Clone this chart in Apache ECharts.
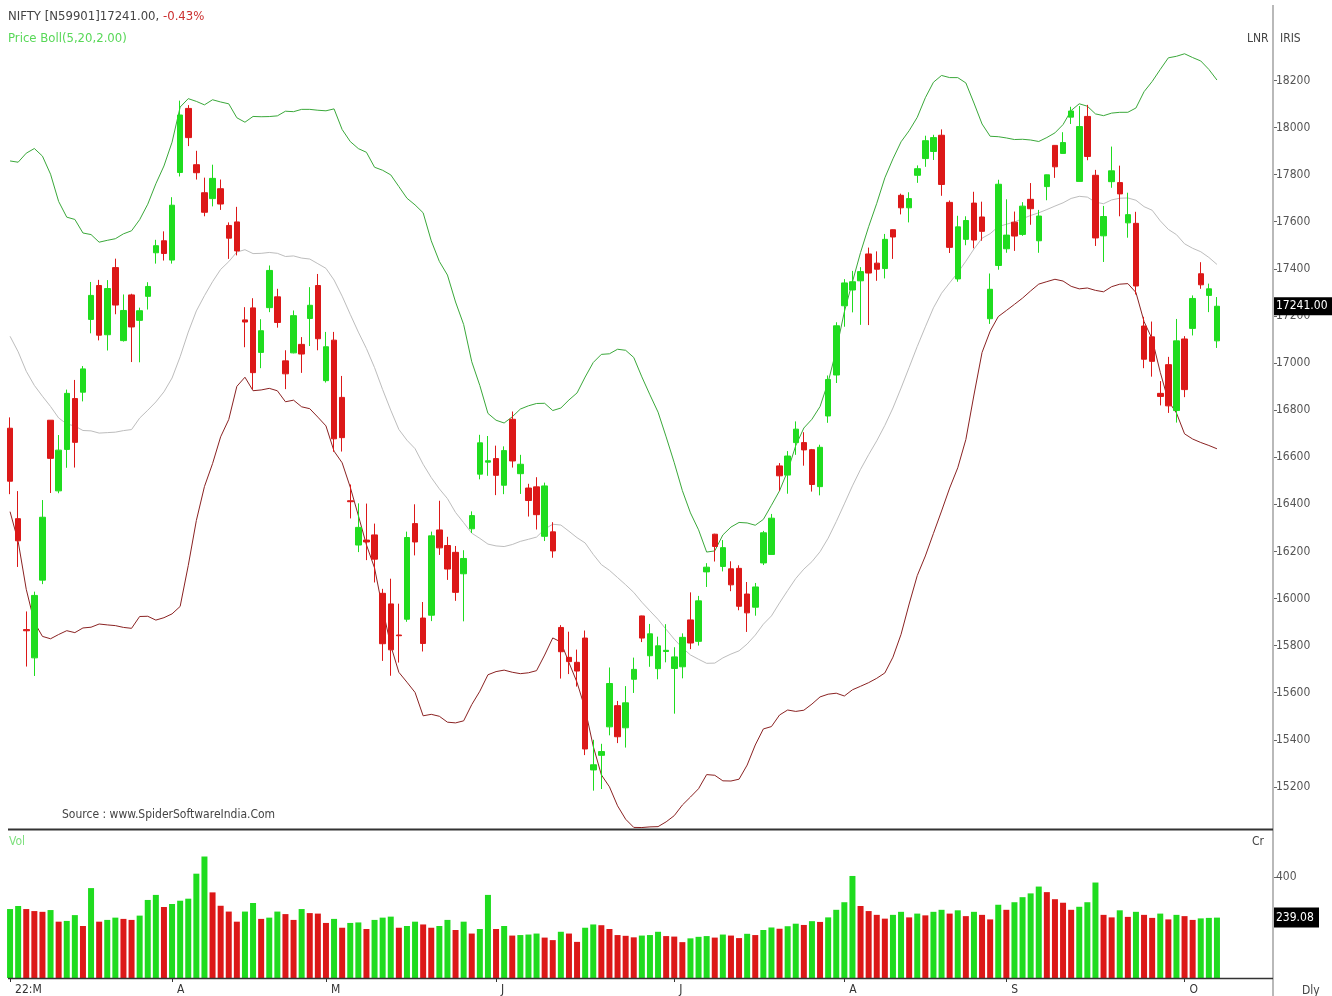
<!DOCTYPE html>
<html>
<head>
<meta charset="utf-8">
<title>NIFTY Bollinger</title>
<script src="https://cdn.jsdelivr.net/npm/echarts@6/dist/echarts.min.js"></script>
<style>
  html, body { margin: 0; padding: 0; background: #fff; }
  #chart { width: 1332px; height: 996px; }
</style>
</head>
<body>
<div id="chart"></div>
<script>
// trading days per month (2022)
const marDays = [3,4,7,8,9,10,11,14,15,16,17,21,22,23,24,25,28,29,30,31];
const aprDays = [1,4,5,6,7,8,11,12,13,18,19,20,21,22,25,26,27,28,29];
const mayDays = [2,4,5,6,9,10,11,12,13,16,17,18,19,20,23,24,25,26,27,30,31];
const junDays = [1,2,3,6,7,8,9,10,13,14,15,16,17,20,21,22,23,24,27,28,29,30];
const julDays = [1,4,5,6,7,8,11,12,13,14,15,18,19,20,21,22,25,26,27,28,29];
const augDays = [1,2,3,4,5,8,10,11,12,16,17,18,19,22,23,24,25,26,29,30];
const sepDays = [1,2,5,6,7,8,9,12,13,14,15,16,19,20,21,22,23,26,27,28,29,30];
const octDays = [3,4,6,7,10];

// month labels on the time axis
const monthStarts = [0, 20, 39, 60, 82, 103, 123, 145];
const monthNames = ['22:M', 'A', 'M', 'J', 'J', 'A', 'S', 'O'];

// price and volume tick labels
const priceTicks = [15200,15400,15600,15800,16000,16200,16400,16600,16800,17000,17200,17400,17600,17800,18000,18200];
const volTicks = [400];

// closes before the first visible day (needed for the 20 day band)
const warmupClose = [17560, 17516, 17214, 17267, 17464, 17606, 17375, 16843, 17352, 17322,
  17305, 17276, 17207, 17092, 17063, 16248, 16658, 16794, 16606];

const open = [
  16723,16339,15868,15748,16078,16757,16457,16633,16849,16876,17185,17329,17120,17405,17095,17289,17181,17283,17468,17519,
  17437,17809,18081,17842,17723,17698,17740,17584,17599,17183,17234,17045,17235,17281,17009,17043,17079,17189,17329,
  16925,17097,16854,16415,16227,16248,16270,16022,15977,15845,15912,16318,15917,15929,16291,16225,16196,16105,16296,16528,16579,
  16594,16481,16761,16530,16469,16474,16264,16283,15877,15750,15729,15832,15272,15334,15455,15545,15451,15657,15926,15757,15702,15775,
  15703,15710,15909,15818,16113,16273,16136,16126,16128,16019,15963,16151,16187,16563,16524,16662,16662,16632,16475,16775,16949,
  17243,17310,17349,17463,17424,17401,17566,17712,17659,17797,17868,17898,17967,17682,17357,17525,17679,17620,17188,17414,
  17485,17598,17546,17695,17519,17749,17924,17890,18044,17771,18047,17797,17540,17770,17766,17595,17593,17157,17111,16871,16993,16798,
  17102,17147,17379,17287,17094
];
const high = [
  16769,16456,15945,16029,16418,16757,16694,16887,16928,16987,17344,17353,17352,17443,17291,17294,17235,17343,17523,17559,
  17704,18114,18095,17901,17787,17842,17779,17597,17663,17237,17275,17186,17414,17315,17054,17223,17110,17322,17378,
  17132,17132,16945,16484,16404,16403,16318,16041,16084,15978,16284,16400,15985,16284,16415,16262,16223,16205,16370,16695,16690,
  16649,16646,16794,16610,16487,16515,16492,16324,15887,15859,15783,15864,15400,15383,15707,15565,15628,15749,15927,15892,15838,15891,
  15793,15852,16026,16011,16150,16275,16248,16158,16141,16070,16066,16287,16359,16575,16626,16752,16706,16635,16653,16947,17173,
  17356,17391,17407,17490,17474,17548,17567,17719,17725,17839,17965,17969,17992,17690,17625,17623,17727,17685,17380,17778,
  17695,17643,17683,17764,17650,17792,17925,17980,18088,18091,18096,17820,17667,17919,17838,17723,17642,17196,17176,16923,17026,17187,
  17114,17287,17428,17337,17280
];
const low = [
  16443,16134,15711,15671,16061,16448,16447,16555,16556,16837,17126,17096,17053,17207,17091,17004,17003,17227,17422,17435,
  17422,17792,17921,17779,17623,17665,17650,17442,17457,17067,16888,16978,17216,17150,16889,17041,16958,17072,17054,
  16917,16623,16624,16340,16197,16163,16068,15735,15672,15728,15901,16183,15775,15904,16185,16079,15990,15903,16278,16506,16521,
  16439,16443,16556,16444,16348,16293,16244,16173,15660,15679,15626,15335,15184,15191,15419,15386,15367,15599,15815,15710,15657,15729,
  15511,15661,15785,15800,16049,16157,16115,16031,15950,15858,15927,16142,16187,16457,16445,16610,16564,16454,16438,16746,16915,
  17154,17215,17162,17161,17349,17359,17442,17631,17597,17765,17833,17862,17710,17467,17345,17500,17487,17519,17166,17396,
  17468,17476,17540,17587,17468,17691,17786,17889,18015,17771,17861,17497,17429,17744,17623,17532,17291,16978,16942,16820,16788,16747,
  16855,17117,17315,17216,17064
];
const close = [
  16498,16245,15863,16013,16345,16595,16630,16871,16663,16975,17287,17118,17316,17246,17223,17153,17222,17325,17498,17465,
  17670,18053,17957,17808,17640,17784,17675,17530,17476,17174,16959,17137,17393,17172,16954,17201,17038,17245,17103,
  17069,16678,16683,16411,16302,16240,16167,15808,15782,15842,16259,16240,15809,16266,16215,16125,16026,16170,16352,16661,16585,
  16523,16628,16584,16570,16416,16356,16478,16202,15774,15732,15692,15361,15294,15350,15639,15413,15557,15699,15832,15850,15799,15780,
  15752,15835,15811,15990,16133,16221,16216,16058,15967,15939,16049,16279,16341,16521,16605,16719,16631,16484,16642,16930,17158,
  17340,17345,17388,17382,17398,17525,17535,17659,17698,17825,17944,17957,17758,17491,17578,17605,17522,17559,17313,17759,
  17543,17539,17666,17655,17624,17799,17833,17936,18070,18004,17877,17531,17622,17816,17718,17630,17327,17016,17007,16858,16818,17094,
  16887,17274,17332,17315,17241
];

// volume in crore
const volume = [
  273,285,273,265,262,269,223,226,249,206,356,223,230,239,234,230,247,309,329,281,
  293,306,314,413,481,339,286,263,223,263,297,234,239,263,253,230,273,257,255,218,
  234,199,218,220,194,230,239,243,199,206,223,212,199,206,230,190,223,176,194,329,
  194,206,168,170,172,176,160,150,183,176,143,199,212,209,194,170,167,161,168,170,
  183,166,164,142,157,163,166,160,172,168,158,175,170,190,200,195,205,215,210,225,
  222,240,270,300,404,285,265,250,235,250,262,240,255,248,262,270,255,268,245,262,
  250,232,290,270,300,320,335,362,340,312,298,270,282,300,378,250,240,268,242,262,
  250,238,255,232,250,245,230,236,238,239.08
];

const GREEN = '#1fdc1f';
const RED = '#dc1818';
const FONT = '"DejaVu Sans Condensed", "Liberation Sans", sans-serif';

const dates = [];
[['03', marDays], ['04', aprDays], ['05', mayDays], ['06', junDays],
 ['07', julDays], ['08', augDays], ['09', sepDays], ['10', octDays]].forEach(function (m) {
  m[1].forEach(function (d) {
    dates.push('2022-' + m[0] + '-' + (d < 10 ? '0' + d : d));
  });
});

const candles = [];
for (let i = 0; i < close.length; i++) {
  candles.push([open[i], close[i], low[i], high[i]]);
}

// Bollinger bands, 20 periods, 2 std devs
const allClose = warmupClose.concat(close);
const bandUp = [], bandMid = [], bandLow = [];
for (let i = 0; i < close.length; i++) {
  const win = allClose.slice(i, i + 20);
  const m = win.reduce((a, b) => a + b, 0) / 20;
  const sd = Math.sqrt(win.reduce((a, b) => a + (b - m) * (b - m), 0) / 20);
  bandMid.push(+m.toFixed(2));
  bandUp.push(+(m + 2 * sd).toFixed(2));
  bandLow.push(+(m - 2 * sd).toFixed(2));
}

// volume bars are green when volume rises over the previous day
const volData = volume.map(function (v, i) {
  const up = i === 0 || v >= volume[i - 1];
  return { value: v, itemStyle: { color: up ? GREEN : RED } };
});

const lastClose = close[close.length - 1];
const lastVol = volume[volume.length - 1];

let myChart = echarts.init(document.getElementById('chart'));

myChart.setOption({
  animation: false,
  backgroundColor: '#fff',
  textStyle: { fontFamily: FONT },
  title: [
    {
      left: 8, top: 10, padding: 0,
      text: '{a|NIFTY [N59901]17241.00, }{b|-0.43%}',
      textStyle: {
        fontWeight: 'normal',
        rich: {
          a: { color: '#444', fontSize: 13, fontWeight: 'normal', fontFamily: FONT },
          b: { color: '#cc3030', fontSize: 13, fontWeight: 'normal', fontFamily: FONT }
        }
      }
    },
    {
      left: 8, top: 32, padding: 0,
      text: 'Price Boll(5,20,2.00)',
      textStyle: { color: '#58d858', fontSize: 13, fontWeight: 'normal', fontFamily: FONT }
    }
  ],
  grid: [
    { left: 6, width: 1215, top: 38, height: 796 },
    { left: 6, width: 1215, top: 831, height: 147 }
  ],
  xAxis: [
    {
      type: 'category', gridIndex: 0, data: dates,
      axisLine: { show: false }, axisTick: { show: false },
      axisLabel: { show: false }, splitLine: { show: false }
    },
    {
      type: 'category', gridIndex: 1, data: dates,
      axisLine: { show: false },
      axisTick: {
        show: true, length: 4, alignWithLabel: true,
        interval: function (i) { return monthStarts.indexOf(i) >= 0; },
        lineStyle: { color: '#333' }
      },
      axisLabel: {
        interval: function (i) { return monthStarts.indexOf(i) >= 0; },
        formatter: function (v, i) {
          const k = monthStarts.indexOf(i);
          return k >= 0 ? monthNames[k] : '';
        },
        align: 'left', padding: [0, 0, 0, 5], margin: 6,
        color: '#333', fontSize: 12, fontFamily: FONT
      },
      splitLine: { show: false }
    }
  ],
  yAxis: [
    {
      type: 'value', gridIndex: 0, position: 'right', offset: 52,
      min: 15000, max: 18380, interval: 200,
      axisLine: { show: false },
      axisTick: { show: true, length: 4, customValues: priceTicks, lineStyle: { color: '#666' } },
      axisLabel: {
        customValues: priceTicks, color: '#555', fontSize: 12, margin: 3, fontFamily: FONT,
        formatter: function (v) { return String(v); }
      },
      splitLine: { show: false }
    },
    {
      type: 'value', gridIndex: 1, position: 'right', offset: 52,
      min: 0, max: 582, interval: 400,
      axisLine: { show: false },
      axisTick: { show: true, length: 4, customValues: volTicks, lineStyle: { color: '#666' } },
      axisLabel: {
        customValues: volTicks, color: '#555', fontSize: 12, margin: 3, fontFamily: FONT,
        formatter: function (v) { return String(v); }
      },
      splitLine: { show: false }
    }
  ],
  series: [
    {
      name: 'Upper', type: 'line', data: bandUp, xAxisIndex: 0, yAxisIndex: 0,
      symbol: 'none', z: 1, lineStyle: { color: '#3aa83a', width: 1 }
    },
    {
      name: 'Mid', type: 'line', data: bandMid, xAxisIndex: 0, yAxisIndex: 0,
      symbol: 'none', z: 1, lineStyle: { color: '#bdbdbd', width: 1 }
    },
    {
      name: 'Lower', type: 'line', data: bandLow, xAxisIndex: 0, yAxisIndex: 0,
      symbol: 'none', z: 1, lineStyle: { color: '#8a2222', width: 1 }
    },
    {
      name: 'NIFTY', type: 'candlestick', data: candles, xAxisIndex: 0, yAxisIndex: 0,
      barWidth: 6, z: 3,
      itemStyle: {
        color: GREEN, color0: RED,
        borderColor: GREEN, borderColor0: RED,
        borderColorDoji: '#555', borderWidth: 1
      }
    },
    {
      name: 'Vol', type: 'bar', data: volData, xAxisIndex: 1, yAxisIndex: 1,
      barWidth: 6
    }
  ]
});

// value tags on the right axis
const py = myChart.convertToPixel({ yAxisIndex: 0 }, lastClose);
const vy = myChart.convertToPixel({ yAxisIndex: 1 }, lastVol);

myChart.setOption({
  graphic: [
    { type: 'line', shape: { x1: 1273, y1: 5, x2: 1273, y2: 996 }, style: { stroke: '#b9b9b9', lineWidth: 2 }, z: 10 },
    { type: 'line', shape: { x1: 8, y1: 829.5, x2: 1273, y2: 829.5 }, style: { stroke: '#333', lineWidth: 2 }, z: 10 },
    { type: 'line', shape: { x1: 8, y1: 978.5, x2: 1273, y2: 978.5 }, style: { stroke: '#333', lineWidth: 1.5 }, z: 10 },
    { type: 'text', left: 62, top: 809, style: { text: 'Source : www.SpiderSoftwareIndia.Com', fill: '#444', font: '12px ' + FONT } },
    { type: 'text', left: 9, top: 836, style: { text: 'Vol', fill: '#7ee07e', font: '12px ' + FONT } },
    { type: 'text', left: 1252, top: 836, style: { text: 'Cr', fill: '#444', font: '12px ' + FONT } },
    { type: 'text', left: 1247, top: 33, style: { text: 'LNR', fill: '#444', font: '12px ' + FONT } },
    { type: 'text', left: 1280, top: 33, style: { text: 'IRIS', fill: '#444', font: '12px ' + FONT } },
    { type: 'text', left: 1302, top: 985, style: { text: 'Dly', fill: '#444', font: '12px ' + FONT } },
    { type: 'rect', shape: { x: 1274, y: py - 9, width: 60, height: 18 }, style: { fill: '#000' }, z: 20 },
    { type: 'text', x: 1276, y: py, style: { text: lastClose.toFixed(2), fill: '#fff', font: '12px ' + FONT, verticalAlign: 'middle' }, z: 21 },
    { type: 'rect', shape: { x: 1274, y: vy - 10, width: 45, height: 20 }, style: { fill: '#000' }, z: 20 },
    { type: 'text', x: 1276, y: vy, style: { text: lastVol.toFixed(2), fill: '#fff', font: '12px ' + FONT, verticalAlign: 'middle' }, z: 21 }
  ]
});
</script>
</body>
</html>
